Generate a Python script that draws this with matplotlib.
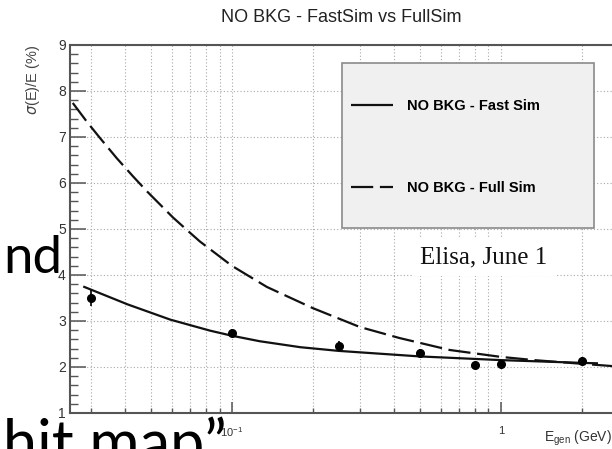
import numpy as np
import matplotlib
matplotlib.use("Agg")
import matplotlib.pyplot as plt
from matplotlib.patches import Rectangle
from matplotlib.ticker import MultipleLocator, LogLocator, NullFormatter

plt.rcParams['font.family'] = ['Liberation Sans', 'DejaVu Sans']

# --- dati ---
# punti misurati (FullSim)
E_points = [0.03, 0.1, 0.25, 0.5, 0.8, 1.0, 2.0]
res_points = [3.50, 2.74, 2.46, 2.31, 2.04, 2.07, 2.14]
res_err = [0.18, 0.08, 0.10, 0.09, 0.04, 0.04, 0.07]

# curva Fast Sim
E_fast = [0.028, 0.041, 0.059, 0.083, 0.1, 0.127, 0.18, 0.25, 0.5, 1.0, 2.0, 2.3]
res_fast = [3.75, 3.36, 3.03, 2.79, 2.68, 2.56, 2.43, 2.35, 2.23, 2.15, 2.09, 2.08]

# curva Full Sim
E_full = [0.0256, 0.0289, 0.0323, 0.0373, 0.0428, 0.0483, 0.0604, 0.068, 0.076,
          0.1, 0.135, 0.2, 0.299, 0.42, 0.646, 1.0, 1.33, 2.0, 2.6]
res_full = [7.74, 7.33, 6.98, 6.54, 6.15, 5.82, 5.25, 4.98, 4.73,
            4.20, 3.74, 3.28, 2.87, 2.63, 2.37, 2.22, 2.15, 2.07, 2.02]

label_fast = "NO BKG - Fast Sim"
label_full = "NO BKG - Full Sim"

W, H = 612, 449
fig = plt.figure(figsize=(W / 100, H / 100), dpi=100)
fig.patch.set_facecolor('white')

# asse: x da 0.025 a 3 (il bordo destro esce dall'immagine)
ax = fig.add_axes([70 / W, (H - 413) / H, 559 / W, 368 / H])
ax.set_xscale('log')
ax.set_xlim(0.025, 3.0)
ax.set_ylim(1, 9)

line_col = '#111111'
ax.plot(E_fast, res_fast, color=line_col, lw=1.6, solid_capstyle='butt',
        label=label_fast, zorder=4)
ax.plot(E_full, res_full, color=line_col, lw=1.6, dashes=(10, 3),
        label=label_full, zorder=4)
ax.errorbar(E_points, res_points, yerr=res_err, fmt='o', color='black',
            ms=5.5, elinewidth=1.2, capsize=0, zorder=5)

# griglia e tick stile ROOT
ax.set_yticks(range(1, 10))
ax.yaxis.set_minor_locator(MultipleLocator(0.2))
ax.set_xticks([0.1, 1.0])
ax.set_xticklabels([r'$\mathregular{10^{-1}}$', '1'])
ax.xaxis.set_minor_locator(LogLocator(base=10, subs=np.arange(2, 10)))
ax.xaxis.set_minor_formatter(NullFormatter())

grid_kw = dict(color='#a8a8a8', linestyle=(0, (1, 2)), linewidth=0.8)
ax.grid(True, which='both', axis='x', **grid_kw)
ax.grid(True, which='major', axis='y', **grid_kw)
ax.set_axisbelow(True)

ax.tick_params(axis='y', which='major', direction='in', length=11.5, width=1.1,
               color='#555555', labelsize=10, labelcolor='#333333', pad=3)
ax.tick_params(axis='y', which='minor', direction='in', length=5.8, width=1.0,
               color='#555555')
ax.tick_params(axis='x', which='major', direction='in', length=8, width=1.1,
               color='#555555', labelsize=8, labelcolor='#333333', pad=9)
ax.tick_params(axis='x', which='minor', direction='in', length=3.6, width=1.0,
               color='#555555')
for sp in ax.spines.values():
    sp.set_color('#555555')
    sp.set_linewidth(1.5)

# legenda: riquadro grigio + voci senza cornice
box = Rectangle((0.4866, 0.5027), 0.4508, 0.4483, transform=ax.transAxes,
                facecolor='#f0f0f0', edgecolor='#8a8a8a', linewidth=1.2, zorder=6)
ax.add_patch(box)
leg = ax.legend(loc='center left', bbox_to_anchor=(0.5027, 0.7228),
                frameon=False, borderpad=0, borderaxespad=0,
                prop={'weight': 'bold', 'size': 10.5},
                handlelength=2.9, handletextpad=0.95, labelspacing=4.7)
leg.set_zorder(7)

# titolo ed etichette assi
fig.text(341 / W, 1 - 17 / H, "NO BKG - FastSim vs FullSim", ha='center',
         va='center', fontsize=13, color='#222222')
fig.text(33 / W, 1 - 45 / H, r"$\sigma$(E)/E (%)", rotation=90, ha='center',
         va='top', fontsize=10.5, color='#444444')
fig.text(612 / W, 1 - 438 / H, r"E$_{\mathregular{gen}}$ (GeV)", ha='right',
         va='center', fontsize=10, color='#333333')

# nota sovrapposta
fig.text(484 / W, 1 - 257 / H, "Elisa, June 1", ha='center', va='center',
         fontsize=18, family='Liberation Serif', color='#111111',
         bbox=dict(boxstyle='square,pad=0.3', facecolor='white', edgecolor='none'),
         zorder=8)

# testo della slide che copre il grafico
fig.text(3 / W, 1 - 273 / H, "nd", ha='left', va='baseline', fontsize=38,
         family=['Lato', 'DejaVu Sans'], color='black', zorder=9)
fig.text(3 / W, 1 - 464 / H, "hit map\u201d", ha='left', va='baseline',
         fontsize=44, family=['Lato', 'DejaVu Sans'], color='black', zorder=9)

fig.savefig("out.png", dpi=100)
